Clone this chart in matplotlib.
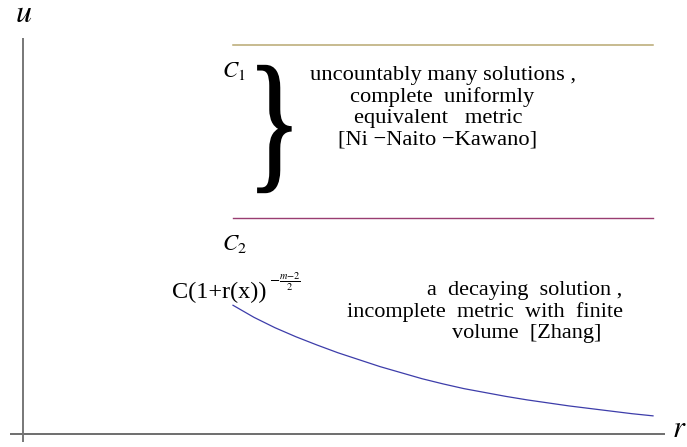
import matplotlib
matplotlib.use("Agg")
import matplotlib.pyplot as plt
from matplotlib.textpath import TextPath
from matplotlib.patches import PathPatch
from matplotlib.font_manager import FontProperties
from matplotlib.transforms import Affine2D

plt.rcParams['font.family'] = ['Liberation Serif', 'DejaVu Serif']
plt.rcParams['mathtext.fontset'] = 'stix'

# ---- data ----
C1_level = 9.0
C2_level = 5.0
line_r = [5.0, 15.0]
decay_r = [5.0, 5.5, 6.0, 6.5, 7.0, 7.5, 8.0, 8.5, 9.0, 9.5, 10.0,
           10.5, 11.0, 11.5, 12.0, 12.5, 13.0, 13.5, 14.0, 14.5, 15.0]
decay_u = [2.98, 2.70, 2.46, 2.25, 2.06, 1.88, 1.72, 1.56, 1.42, 1.28, 1.16,
           1.05, 0.96, 0.87, 0.79, 0.72, 0.65, 0.59, 0.53, 0.47, 0.42]
upper_text = ["uncountably many solutions ,", "complete  uniformly",
              "equivalent   metric", "[Ni \u2212Naito \u2212Kawano]"]
lower_text = ["a  decaying  solution ,", "incomplete  metric  with  finite",
              "volume  [Zhang]"]

fig = plt.figure(figsize=(6.87, 4.47), dpi=100)
ax = fig.add_axes([0, 0, 1, 1])
ax.axis('off')
ax.set_xlim(-23 / 42, 664 / 42)
ax.set_ylim((434 - 447) / 43.2, 434 / 43.2)

# axes
ax.plot([-0.31, 15.29], [0, 0], color='#555555', lw=1.2, solid_capstyle='butt')
ax.plot([0, 0], [-0.19, 9.17], color='#777777', lw=1.4, solid_capstyle='butt')
ax.text(-0.19, 9.54, r'$u$', fontsize=23, va='baseline', ha='left')
ax.text(15.45, -0.06, r'$r$', fontsize=22, va='baseline', ha='left')

# level lines
ax.plot(line_r, [C1_level, C1_level], color='#b8a872', lw=1.1)
ax.plot(line_r, [C2_level, C2_level], color='#993d71', lw=1.0)
ax.plot(decay_r, decay_u, color='#3d3daa', lw=0.9)

# labels
ax.text(4.74, 8.26, r'$C_1$', fontsize=16.5, va='baseline', ha='left')
ax.text(4.74, 4.26, r'$C_2$', fontsize=16.5, va='baseline', ha='left')
ax.text(3.55, 3.15, 'C(1+r(x))', fontsize=17.5, va='baseline', ha='left')
ax.text(5.85, 3.45, r'$-\frac{m{-}2}{2}$', fontsize=10.5, va='baseline', ha='left')

# brace
tp = TextPath((0, 0), "}", size=1, prop=FontProperties(family='Liberation Serif'))
ext = tp.get_extents()
x0, x1, y0, y1 = 5.60, 6.37, 5.60, 8.52
tr = Affine2D().translate(-ext.x0, -ext.y0).scale((x1 - x0) / ext.width,
                                                  (y1 - y0) / ext.height).translate(x0, y0)
ax.add_patch(PathPatch(tr.transform_path(tp), facecolor='black', edgecolor='black',
                       lw=1.6, transform=ax.transData))

# texts
ucx = [10.0, 9.98, 9.88, 9.88]
ucy = [8.19, 7.69, 7.20, 6.69]
for s, x, y in zip(upper_text, ucx, ucy):
    ax.text(x, y, s, fontsize=16.2, ha='center', va='baseline')
lx = [9.62, 7.71, 10.21]
ly = [3.22, 2.71, 2.22]
for s, x, y in zip(lower_text, lx, ly):
    ax.text(x, y, s, fontsize=16, ha='left', va='baseline')

fig.savefig('out.png', dpi=100)
